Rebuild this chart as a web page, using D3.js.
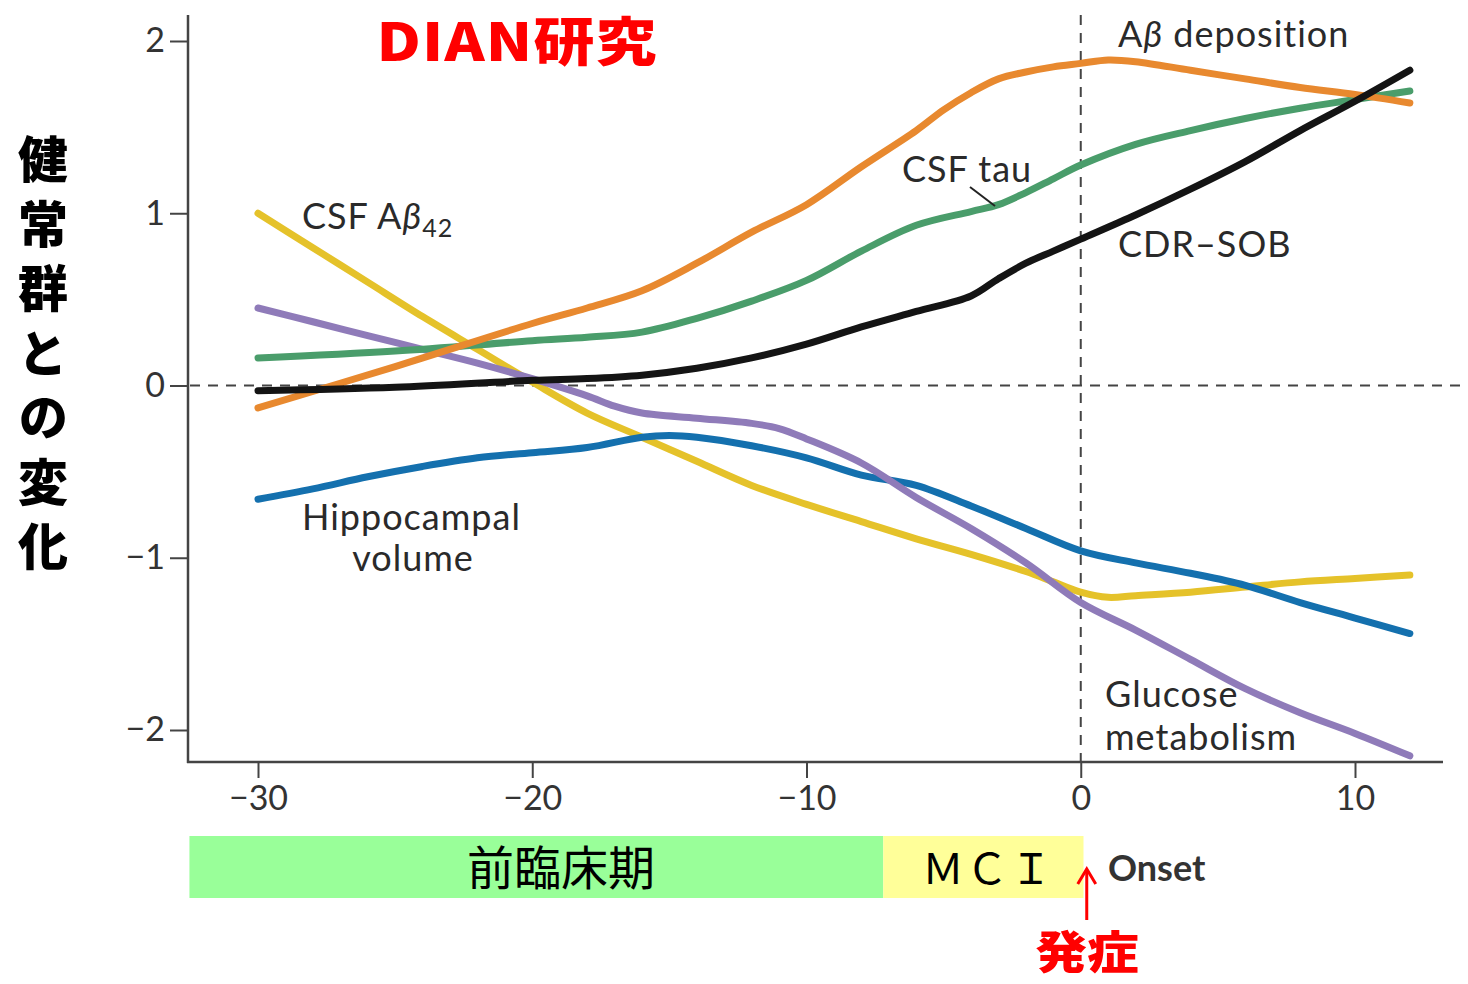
<!DOCTYPE html>
<html><head><meta charset="utf-8">
<script src="https://cdn.jsdelivr.net/npm/d3@7"></script>
<style>body{margin:0;background:#fff}svg{display:block}</style>
</head><body>
<svg id="c" width="1468" height="984"></svg>
<script>
// ---- data ----
const xTicks = [-30, -20, -10, 0, 10];
const yTicks = [-2, -1, 0, 1, 2];

const abDepYears = [-30,-25,-20,-18,-16,-14,-12,-10,-8,-6,-5,-4,-3,-2,-1,0,1,2,4,6,8,10,12];
const abDepVals  = [-0.13,0.11,0.36,0.45,0.55,0.71,0.89,1.05,1.27,1.48,1.60,1.70,1.78,1.82,1.85,1.87,1.89,1.88,1.83,1.78,1.73,1.69,1.64];

const tauYears = [-30,-25,-20,-18,-16,-14,-12,-10,-8,-6,-4,-3,-2,-1,0,2,4,6,8,10,12];
const tauVals  = [0.16,0.20,0.26,0.28,0.31,0.39,0.49,0.61,0.78,0.93,1.01,1.05,1.12,1.20,1.28,1.40,1.48,1.55,1.61,1.66,1.71];

const cdrYears = [-30,-25,-20,-18,-16,-14,-12,-10,-8,-6,-4,-3,-2,-1,0,2,4,6,8,10,12];
const cdrVals  = [-0.03,-0.01,0.03,0.04,0.06,0.10,0.16,0.24,0.34,0.43,0.52,0.62,0.71,0.78,0.85,0.99,1.14,1.30,1.48,1.65,1.83];

const ab42Years = [-30,-28,-26,-24,-22,-20,-18,-16,-14,-12,-10,-8,-6,-4,-2,-1,0,1,2,4,6,8,10,12];
const ab42Vals  = [1.00,0.80,0.60,0.40,0.21,0.02,-0.16,-0.30,-0.44,-0.58,-0.69,-0.79,-0.89,-0.98,-1.08,-1.14,-1.20,-1.23,-1.22,-1.20,-1.17,-1.14,-1.12,-1.10];

const gluYears = [-30,-28,-26,-24,-22,-20,-18,-17,-16,-14,-12,-11,-10,-8,-6,-4,-2,0,2,4,6,8,10,12];
const gluVals  = [0.45,0.37,0.29,0.21,0.13,0.04,-0.06,-0.12,-0.16,-0.19,-0.22,-0.25,-0.31,-0.45,-0.65,-0.83,-1.03,-1.26,-1.42,-1.59,-1.76,-1.90,-2.02,-2.15];

const hipYears = [-30,-28,-26,-24,-22,-20,-18,-16,-15,-14,-12,-10,-8,-6,-4,-2,0,2,4,6,8,10,12];
const hipVals  = [-0.66,-0.60,-0.53,-0.47,-0.42,-0.39,-0.36,-0.30,-0.29,-0.30,-0.35,-0.42,-0.52,-0.58,-0.70,-0.83,-0.96,-1.03,-1.09,-1.16,-1.26,-1.35,-1.44];

const seriesNames = ["Aβ deposition","CSF tau","CDR–SOB","CSF Aβ42","Glucose metabolism","Hippocampal volume"];
const phases = [{label:"前臨床期", from:-32.5, to:-7.2}, {label:"ＭＣＩ", from:-7.2, to:0.1}];

// ---- scales ----
const svg = d3.select("#c");
const x = d3.scaleLinear().domain([-30, 10]).range([258, 1355]);
const y = d3.scaleLinear().domain([-2, 2]).range([730, 41]);

const series = [
  {yrs:abDepYears, vals:abDepVals, color:"#e8892f"},
  {yrs:tauYears, vals:tauVals, color:"#4a9d6b"},
  {yrs:cdrYears, vals:cdrVals, color:"#141414"},
  {yrs:ab42Years, vals:ab42Vals, color:"#e5c22a"},
  {yrs:gluYears, vals:gluVals, color:"#8f7bb9"},
  {yrs:hipYears, vals:hipVals, color:"#1470ae"}
];
const drawOrder = [3, 5, 4, 1, 0, 2];

const axisColor = "#444";
const font = "Lato, 'Open Sans', sans-serif";
const cjk = "'Noto Sans CJK JP', sans-serif";

// dashed reference lines
svg.append("line").attr("x1", 190).attr("x2", 1468).attr("y1", y(0)).attr("y2", y(0))
  .attr("stroke", axisColor).attr("stroke-width", 2).attr("stroke-dasharray", "10,8");
svg.append("line").attr("x1", x(0)).attr("x2", x(0)).attr("y1", 15).attr("y2", 762)
  .attr("stroke", axisColor).attr("stroke-width", 2).attr("stroke-dasharray", "10,8");

// axes
const fmt = d => d < 0 ? "−" + Math.abs(d) : d;
const gy = svg.append("g").attr("transform", "translate(188,0)")
  .call(d3.axisLeft(y).tickValues(yTicks).tickSize(18).tickPadding(5).tickFormat(fmt));
const gx = svg.append("g").attr("transform", "translate(0,762)")
  .call(d3.axisBottom(x).tickValues(xTicks).tickSize(16).tickPadding(8).tickFormat(fmt));
[gy, gx].forEach(g => {
  g.select(".domain").remove();
  g.selectAll(".tick line").attr("stroke", axisColor).attr("stroke-width", 2);
  g.selectAll(".tick text").attr("fill", "#333").attr("font-family", font).attr("font-size", 34);
});
svg.append("line").attr("x1", 188).attr("x2", 188).attr("y1", 15).attr("y2", 763).attr("stroke", axisColor).attr("stroke-width", 2.5);
svg.append("line").attr("x1", 187).attr("x2", 1443).attr("y1", 762).attr("y2", 762).attr("stroke", axisColor).attr("stroke-width", 2.5);

// lines
const line = d3.line().curve(d3.curveCatmullRom.alpha(0.5));
drawOrder.forEach(i => {
  const s = series[i];
  svg.append("path")
    .attr("d", line(s.yrs.map((v, k) => [x(v), y(s.vals[k])])))
    .attr("fill", "none").attr("stroke", s.color).attr("stroke-width", 7)
    .attr("stroke-linecap", "round").attr("stroke-linejoin", "round");
});

// labels
const LFS = 36, LLS = 1;
const lbl = (t, px, py, anchor) => svg.append("text").attr("x", px).attr("y", py)
  .attr("font-family", font).attr("font-size", LFS).attr("letter-spacing", LLS).attr("fill", "#2a2a2a")
  .attr("text-anchor", anchor || "start").text(t);

const t1 = svg.append("text").attr("x", 302).attr("y", 229).attr("font-family", font)
  .attr("font-size", LFS).attr("letter-spacing", LLS).attr("fill", "#2a2a2a");
t1.append("tspan").text("CSF A");
t1.append("tspan").attr("font-style", "italic").text("β");
t1.append("tspan").attr("font-size", 25).attr("dy", 8).text("42");

lbl("CSF tau", 902, 182);
svg.append("line").attr("x1", 970).attr("y1", 187).attr("x2", 995).attr("y2", 206).attr("stroke", "#222").attr("stroke-width", 2);

const t2 = svg.append("text").attr("x", 1118).attr("y", 47).attr("font-family", font)
  .attr("font-size", LFS).attr("letter-spacing", LLS).attr("fill", "#2a2a2a");
t2.append("tspan").text("A");
t2.append("tspan").attr("font-style", "italic").text("β");
t2.append("tspan").text(" deposition");

lbl("CDR–SOB", 1118, 257);
lbl("Hippocampal", 302, 530);
lbl("volume", 413, 571, "middle");
lbl("Glucose", 1105, 707);
lbl("metabolism", 1105, 750);

// title
svg.append("text").attr("x", 0).attr("y", 0).attr("text-anchor", "middle")
  .attr("transform", "translate(517,61) scale(1.17,1)")
  .attr("font-family", cjk).attr("font-weight", 900).attr("letter-spacing", 1)
  .attr("font-size", 52).attr("fill", "#ff0000").text("DIAN研究");

// vertical y label
svg.append("text").attr("x", 43).attr("y", 134)
  .attr("font-family", cjk).attr("font-weight", 900)
  .attr("font-size", 50).attr("fill", "#000")
  .attr("letter-spacing", 14.5)
  .style("writing-mode", "vertical-rl")
  .text("健常群との変化");

// phase bars
const phaseColors = ["#99ff99", "#ffff99"];
phases.forEach((p, k) => {
  const x0 = x(p.from), x1 = x(p.to);
  svg.append("rect").attr("x", x0).attr("y", 836).attr("width", x1 - x0).attr("height", 62).attr("fill", phaseColors[k]);
});
svg.append("text").attr("x", 561).attr("y", 885).attr("text-anchor", "middle")
  .attr("font-family", cjk).attr("font-size", 47).attr("fill", "#000")
  .text(phases[0].label);
svg.append("text").attr("x", 988).attr("y", 884).attr("text-anchor", "middle")
  .attr("font-family", cjk).attr("font-size", 42).attr("fill", "#000")
  .attr("letter-spacing", 2)
  .text(phases[1].label);

svg.append("text").attr("x", 1108).attr("y", 881).attr("font-family", font).attr("font-weight", 700)
  .attr("font-size", 36).attr("fill", "#333").text("Onset");

// arrow
svg.append("line").attr("x1", x(0) + 6).attr("x2", x(0) + 6).attr("y1", 920).attr("y2", 872)
  .attr("stroke", "#ff0000").attr("stroke-width", 3);
svg.append("path").attr("d", `M${x(0)-3},884 L${x(0)+6},869 L${x(0)+15},884`)
  .attr("fill", "none").attr("stroke", "#ff0000").attr("stroke-width", 3);
svg.append("text").attr("x", 0).attr("y", 0).attr("text-anchor", "middle")
  .attr("transform", "translate(1087,969) scale(1.15,1)")
  .attr("font-family", cjk).attr("font-weight", 900)
  .attr("font-size", 45).attr("fill", "#ff0000").text("発症");
</script>
</body></html>
